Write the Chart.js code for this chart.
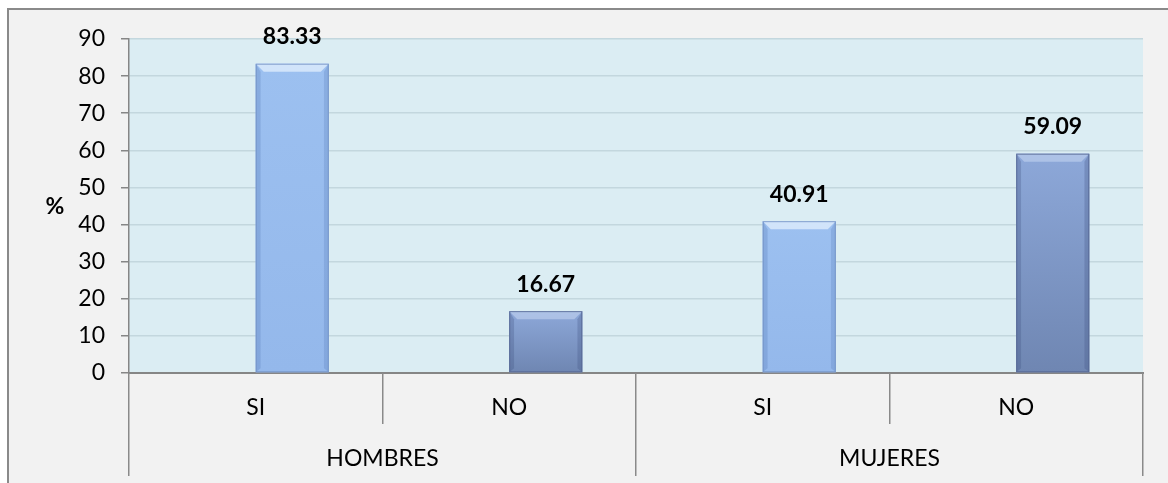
<!DOCTYPE html>
<html>
<head>
<meta charset="utf-8">
<script src="https://cdn.jsdelivr.net/npm/chart.js@4.4.1/dist/chart.umd.min.js"></script>
<style>
  html, body { margin: 0; padding: 0; background: #ffffff; overflow: hidden; }
  #frame { position: absolute; left: 7px; top: 8px; width: 1300px; height: 600px;
           background: #f2f2f2; border-left: 2px solid #8a8a8a; border-top: 2px solid #8a8a8a; }
  #wrap { position: absolute; left: 0; top: 0; width: 1168px; height: 483px; }
</style>
</head>
<body>
<div id="frame"></div>
<div id="wrap"><canvas id="c" width="1168" height="483"></canvas></div>
<script>
// ---- data ----
const categories = ['SI', 'NO', 'SI', 'NO'];
const groups = ['HOMBRES', 'MUJERES'];
const values = [83.33, 16.67, 40.91, 59.09];
const yMin = 0, yMax = 90, yStep = 10;
const yAxisTitle = '%';

const FONT = 'Lato';

function isSI(i) { return categories[i] === 'SI'; }

const bevelPlugin = {
  id: 'bevel',
  afterDatasetsDraw(chart) {
    const c = chart.ctx;
    const meta = chart.getDatasetMeta(1);
    meta.data.forEach((bar, i) => {
      const si = isSI(i);
      const w = bar.width, x0 = bar.x - w / 2, x1 = bar.x + w / 2;
      const top = bar.y, bot = bar.base;
      const b = Math.min(8, (bot - top) / 3);
      c.save();
      // body gradient per bar
      const g = c.createLinearGradient(0, top, 0, bot);
      if (si) { g.addColorStop(0, '#9cc0f0'); g.addColorStop(1, '#94b8eb'); }
      else { g.addColorStop(0, '#8da8d9'); g.addColorStop(1, '#6f86b2'); }
      c.fillStyle = g;
      c.fillRect(x0, top, w, bot - top);
      // top bevel (light)
      c.fillStyle = si ? 'rgba(222,236,252,0.8)' : 'rgba(195,212,240,0.6)';
      c.beginPath();
      c.moveTo(x0, top); c.lineTo(x1, top); c.lineTo(x1 - b, top + b); c.lineTo(x0 + b, top + b); c.closePath(); c.fill();
      // left bevel
      c.fillStyle = si ? 'rgba(90,125,185,0.3)' : 'rgba(60,80,125,0.28)';
      c.beginPath();
      c.moveTo(x0, top); c.lineTo(x0 + b * 0.6, top + b); c.lineTo(x0 + b * 0.6, bot - b * 0.5); c.lineTo(x0, bot); c.closePath(); c.fill();
      // right bevel
      c.fillStyle = si ? 'rgba(90,125,185,0.28)' : 'rgba(60,80,125,0.28)';
      c.beginPath();
      c.moveTo(x1, top); c.lineTo(x1 - b * 0.6, top + b); c.lineTo(x1 - b * 0.6, bot - b * 0.5); c.lineTo(x1, bot); c.closePath(); c.fill();
      // outline
      c.strokeStyle = si ? 'rgba(115,145,195,0.8)' : 'rgba(85,103,145,0.8)';
      c.lineWidth = 1;
      c.strokeRect(x0 + 0.5, top + 0.5, w - 1, bot - top - 1);
      c.restore();
    });
  }
};

const labelPlugin = {
  id: 'valueLabels',
  afterDatasetsDraw(chart) {
    const c = chart.ctx;
    const meta = chart.getDatasetMeta(1);
    c.save();
    c.font = 'bold 23px ' + FONT;
    c.fillStyle = '#000';
    c.textAlign = 'center';
    c.textBaseline = 'middle';
    meta.data.forEach((bar, i) => {
      c.fillText(values[i].toFixed(2), bar.x, bar.y - 27);
    });
    c.restore();
  }
};

const axisDecor = {
  id: 'axisDecor',
  afterDraw(chart) {
    const c = chart.ctx;
    const xs = chart.scales.x;
    const ys = chart.scales.y;
    const n = categories.length;
    const cw = (xs.right - xs.left) / n;
    c.save();
    c.strokeStyle = '#8a8a8a';
    c.lineWidth = 1.5;
    for (let i = 0; i <= n; i++) {
      const x = Math.round(xs.left + i * cw) - 0.25;
      const full = (i % 2 === 0);
      c.beginPath();
      c.moveTo(x, xs.top);
      c.lineTo(x, xs.top + (full ? 103 : 51));
      c.stroke();
    }
    // group labels
    c.font = '23px ' + FONT;
    c.fillStyle = '#000';
    c.textAlign = 'center';
    c.textBaseline = 'middle';
    groups.forEach((g, gi) => {
      const a = xs.getPixelForValue(gi * 2);
      const b = xs.getPixelForValue(gi * 2 + 1);
      c.fillText(g, (a + b) / 2, xs.top + 86);
    });
    // y axis title
    c.font = 'bold 23px ' + FONT;
    c.fillText(yAxisTitle, 55, (ys.top + ys.bottom) / 2 + 1);
    c.restore();
  }
};

const plotBg = {
  id: 'plotBg',
  beforeDraw(chart) {
    const a = chart.chartArea;
    const c = chart.ctx;
    c.save();
    c.fillStyle = '#dbedf3';
    c.fillRect(a.left, a.top, a.right - a.left, a.bottom - a.top);
    c.restore();
  }
};

new Chart(document.getElementById('c'), {
  type: 'bar',
  data: {
    labels: categories,
    datasets: [
      { label: '', data: categories.map(() => null) },
      { label: yAxisTitle, data: values,
        backgroundColor: categories.map((_, i) => isSI(i) ? '#98bcee' : '#7f97c6'), borderWidth: 0 }
    ]
  },
  options: {
    responsive: false,
    animation: false,
    events: [],
    categoryPercentage: 0.576,
    barPercentage: 1.0,
    layout: { padding: { left: 0, right: 25, top: 39, bottom: 0 } },
    plugins: { legend: { display: false }, tooltip: { enabled: false } },
    scales: {
      x: {
        afterFit(s) { s.height = 110; },
        grid: { display: false, drawTicks: false },
        border: { display: true, color: '#868686', width: 2 },
        ticks: { color: '#000', font: { family: FONT, size: 23 }, padding: 21, maxRotation: 0 }
      },
      y: {
        min: yMin, max: yMax,
        afterFit(s) { s.width = 129; },
        ticks: { stepSize: yStep, color: '#000', font: { family: FONT, size: 23 }, padding: 16 },
        grid: { color: '#c3d7de', lineWidth: 1.5, tickLength: 8, tickColor: '#868686', tickWidth: 1.5 },
        border: { display: true, color: '#868686', width: 1.5 }
      }
    }
  },
  plugins: [plotBg, bevelPlugin, labelPlugin, axisDecor]
});
</script>
</body>
</html>
